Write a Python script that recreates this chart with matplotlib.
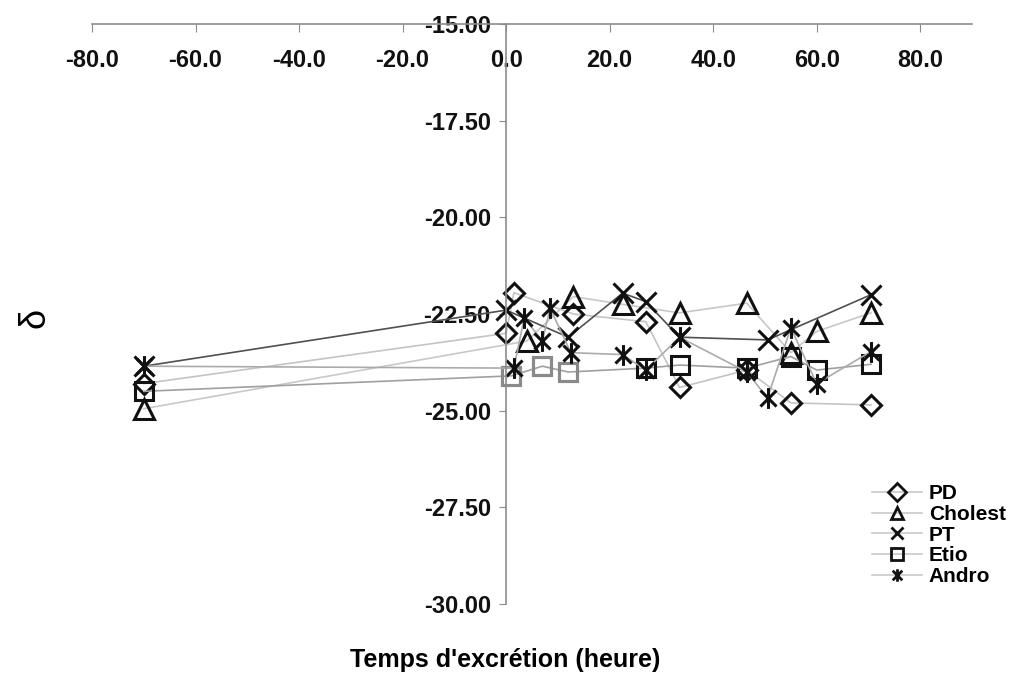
import matplotlib
matplotlib.use('Agg')
import matplotlib.pyplot as plt
from matplotlib.path import Path

plt.rcParams['font.family'] = ['Liberation Sans', 'DejaVu Sans']

# données
pd_x = [-70, 0, 1.5, 13, 27, 33.5, 46.5, 55, 70.5]
pd_y = [-24.3, -23.0, -21.95, -22.5, -22.7, -24.4, -23.95, -24.8, -24.85]

chol_x = [-70, 4, 13, 22.5, 33.5, 46.5, 55, 60, 70.5]
chol_y = [-24.95, -23.2, -22.05, -22.25, -22.47, -22.22, -23.5, -22.95, -22.47]

pt_x = [-70, 0, 12, 22.5, 27, 33.5, 50.5, 70.5]
pt_y = [-23.85, -22.4, -23.1, -21.96, -22.18, -23.1, -23.17, -22.0]

etio_x = [-70, 1, 7, 12, 27, 33.5, 46.5, 55, 60, 70.5]
etio_y = [-24.5, -24.1, -23.85, -24.0, -23.9, -23.82, -23.9, -23.6, -23.95, -23.8]

andro_x = [-70, 1.5, 3.5, 7, 8.5, 12.5, 22.5, 27, 33.5, 46.5, 50.5, 55, 60, 70.5]
andro_y = [-23.85, -23.9, -22.6, -23.2, -22.35, -23.5, -23.55, -23.95, -23.1, -24.0, -24.67, -22.86, -24.3, -23.47]

x_ticks = [-80, -60, -40, -20, 0, 20, 40, 60, 80]
y_ticks = [-30, -27.5, -25, -22.5, -20, -17.5, -15]

# marqueur "étoile" façon Excel : X + trait vertical
asterisk = Path([(-1, -1), (1, 1), (-1, 1), (1, -1), (0, -1.3), (0, 1.3)],
                [Path.MOVETO, Path.LINETO, Path.MOVETO, Path.LINETO, Path.MOVETO, Path.LINETO])

fig = plt.figure(figsize=(10.11, 6.75), dpi=100)
ax = fig.add_axes([92 / 1011, 1 - 604 / 675, 880 / 1011, 580 / 675])

common = dict(markerfacecolor='none', markeredgecolor='#111111', markeredgewidth=2.2, linewidth=1.2)
ax.plot(pd_x, pd_y, marker='D', markersize=10, color='#c4c4c4', label='PD', **common)
ax.plot(chol_x, chol_y, marker='^', markersize=14, color='#c8c8c8', label='Cholest', **common)
ax.plot(pt_x, pt_y, marker='x', markersize=14, color='#505050', label='PT', **common)
ax.plot(etio_x, etio_y, marker='s', markersize=13, color='#a0a0a0', label='Etio', **common)
ax.plot(etio_x, etio_y, marker='s', markersize=13, linestyle='none', markevery=[1, 2, 3],
        markerfacecolor='none', markeredgecolor='#8a8a8a', markeredgewidth=2.2)
ax.plot(andro_x, andro_y, marker=asterisk, markersize=15, color='#ababab', label='Andro', **common)

ax.set_xlim(-80, 90)
ax.set_ylim(-30, -15)
ax.set_xticks(x_ticks)
ax.set_yticks(y_ticks)
ax.set_xticklabels([f"{v:.1f}" for v in x_ticks])
ax.set_yticklabels([f"{v:.2f}" for v in y_ticks])

ax.spines['top'].set_visible(False)
ax.spines['right'].set_visible(False)
ax.spines['bottom'].set_position(('data', -15))
ax.spines['left'].set_position(('data', 0))
for s in ('bottom', 'left'):
    ax.spines[s].set_color('#8c8c8c')
    ax.spines[s].set_linewidth(1.2)

ax.tick_params(axis='x', direction='out', length=6, color='#8c8c8c', pad=12,
               labelsize=17)
ax.tick_params(axis='y', direction='out', length=5, color='#8c8c8c', pad=6,
               labelsize=17)
for lab in ax.get_xticklabels() + ax.get_yticklabels():
    lab.set_fontweight('bold')
    lab.set_color('#111111')

ax.set_ylabel('δ', fontsize=26)
ax.yaxis.set_label_coords(-0.045, 0.493)

fig.text(0.5, 1 - 660 / 675, "Temps d'excrétion (heure)", ha='center', va='center',
         fontsize=18, fontweight='bold')

leg = ax.legend(loc='upper left', bbox_to_anchor=(862 / 1011, 1 - 474 / 675),
                bbox_transform=fig.transFigure, frameon=False, borderpad=0,
                handlelength=2.4, handletextpad=0.3, labelspacing=0.08,
                prop={'weight': 'bold', 'size': 15})
for h in leg.legend_handles:
    h.set_color('#c8c8c8')
    h.set_markeredgecolor('#111111')
    h.set_markersize(9)
    h.set_markeredgewidth(2)

fig.savefig('out.png', dpi=100)
plt.close(fig)
